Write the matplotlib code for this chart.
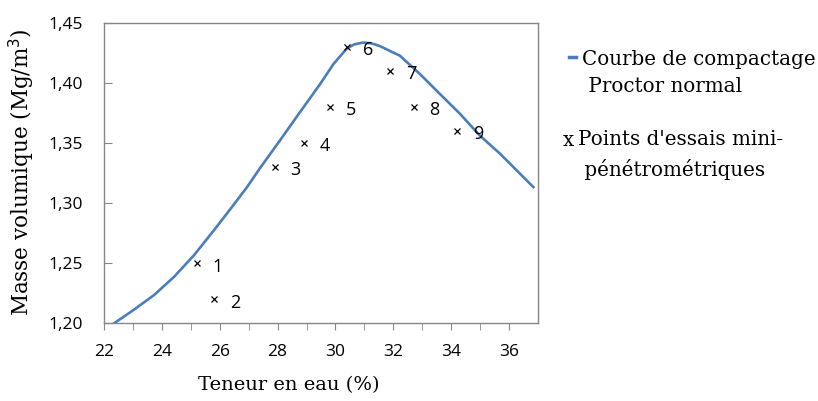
import matplotlib
matplotlib.use("Agg")
import matplotlib.pyplot as plt
from matplotlib.lines import Line2D

plt.rcParams['font.family'] = ['Open Sans', 'DejaVu Sans']

# Proctor curve
curve_w = [22.35, 23.04, 23.73, 24.42, 25.11, 25.80, 26.40, 26.95, 27.39, 28.08, 28.77,
           29.47, 29.93, 30.39, 30.65, 30.96, 31.25, 31.54, 32.23, 32.92, 33.61, 34.31, 34.99,
           35.69, 36.84]
curve_d = [1.200, 1.2114, 1.2235, 1.2386, 1.2566, 1.2774, 1.2960, 1.3135, 1.3290, 1.3520, 1.3755,
           1.3990, 1.4156, 1.4285, 1.4320, 1.4335, 1.4328, 1.4305, 1.4225, 1.4073, 1.3907, 1.3741,
           1.3561, 1.3410, 1.3133]

# mini-penetrometer test points
pt_w = [25.2, 25.8, 27.9, 28.9, 29.8, 30.4, 31.9, 32.7, 34.2]
pt_d = [1.25, 1.22, 1.33, 1.35, 1.38, 1.43, 1.41, 1.38, 1.36]
pt_labels = ["1", "2", "3", "4", "5", "6", "7", "8", "9"]

xticks = [22, 24, 26, 28, 30, 32, 34, 36]
yticks = [1.20, 1.25, 1.30, 1.35, 1.40, 1.45]

fig = plt.figure(figsize=(8.18, 4.01), dpi=100)
ax = fig.add_axes([104/818, 1-323.3/401, (538-104)/818, (323.3-22.7)/401])

blue = "#4A7EBB"
gray = "#868686"
ax.plot(curve_w, curve_d, color=blue, lw=1.9, solid_joinstyle="round")
ax.plot(pt_w, pt_d, linestyle="none", marker="x", color="black", ms=4.5, mew=0.9)
for x, y, t in zip(pt_w, pt_d, pt_labels):
    ax.annotate(t, (x, y), xytext=(11.3, -6), textcoords="offset points",
                ha="left", va="baseline", fontsize=13, family="Open Sans")

ax.set_xlim(22, 37)
ax.set_ylim(1.20, 1.45)
ax.set_xticks(xticks)
ax.set_xticks(range(22, 37), minor=True)
ax.set_yticks(yticks)
ax.set_yticklabels([f"{v:.2f}".replace(".", ",") for v in yticks])
ax.set_xticklabels([str(v) for v in xticks])
for s in ax.spines.values():
    s.set_color(gray)
    s.set_linewidth(1.0)
ax.tick_params(axis="x", which="both", direction="out", length=5, color=gray, pad=10,
               labelsize=12.5)
ax.tick_params(axis="y", which="both", direction="in", length=6, color=gray, pad=15,
               labelsize=12.5)

ax.set_xlabel("Teneur en eau (%)", family="DejaVu Serif", fontsize=14)
ax.xaxis.set_label_coords((289-104)/(538-104), -(385-323.3)/(323.3-22.7))
ax.xaxis.label.set_va("center")
ax.set_ylabel("Masse volumique (Mg/m$^3$)", family="DejaVu Serif", fontsize=15.5)
ax.yaxis.set_label_coords(-(104-22)/(538-104), (323.3-172)/(323.3-22.7))
ax.yaxis.label.set_va("center")

# legend
fig.add_artist(Line2D([569/818, 576/818], [1-57/401, 1-57/401], color=blue, lw=2.5))
fig.text(582/818, 1-73/401, "Courbe de compactage\n Proctor normal", family="DejaVu Serif",
         fontsize=14.3, va="center", ha="left", linespacing=1.55)
fig.text(563/818, 1-141/401, "x", family="DejaVu Serif", fontsize=14.3, va="center", ha="left")
fig.text(578/818, 1-155/401, "Points d'essais mini-\n pénétrométriques", family="DejaVu Serif",
         fontsize=14.3, va="center", ha="left", linespacing=1.55)

fig.savefig("out.png", dpi=100)
